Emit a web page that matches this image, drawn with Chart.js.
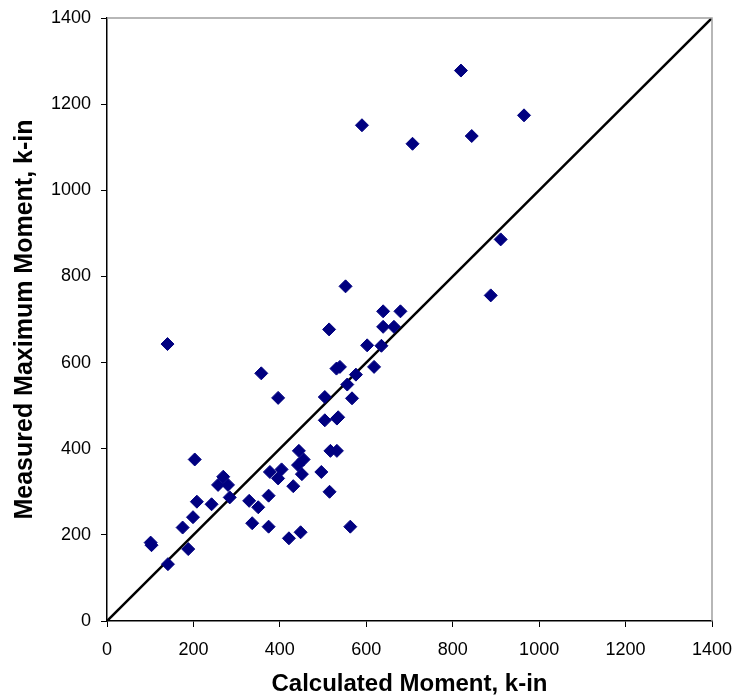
<!DOCTYPE html>
<html lang="en">
<head>
    <meta charset="UTF-8">
    <title>Measured vs Calculated Moment</title>
    <script src="https://cdn.jsdelivr.net/npm/chart.js"></script>
    <style>
        body { margin: 0; background: #fff; }
        #wrap { width: 737px; height: 700px; }
    </style>
</head>
<body>
    <div id="wrap"><canvas id="chartMoment" width="737" height="700"></canvas></div>

    <script>
        // calculated moment (k-in)
        const calcMoment = [101, 103, 140, 357, 396, 203, 208, 242, 199, 175, 188, 141,
            269, 257, 280, 284, 329, 350, 336, 374, 374, 377, 404, 396, 431, 421, 448,
            444, 455, 442, 451, 496, 515, 517, 532, 504, 532, 535, 504, 531, 539, 514,
            556, 567, 563, 576, 618, 602, 635, 639, 664, 639, 679, 552, 590, 707, 819,
            965, 844, 911, 888];
        // measured maximum moment (k-in)
        const measMoment = [182, 176, 643, 575, 518, 375, 277, 271, 241, 217, 167, 132,
            335, 316, 316, 287, 279, 264, 227, 219, 291, 346, 352, 331, 313, 192, 206,
            395, 375, 362, 341, 346, 300, 395, 395, 466, 470, 473, 520, 586, 590, 677,
            549, 517, 219, 572, 590, 640, 639, 683, 683, 719, 719, 777, 1151, 1108, 1278,
            1174, 1126, 886, 756];
        // 1:1 line
        const lineX = [0, 1400];
        const lineY = [0, 1400];
        const axisTicks = [0, 200, 400, 600, 800, 1000, 1200, 1400];

        const pts = calcMoment.map((x, i) => ({ x: x, y: measMoment[i] }));
        const diag = lineX.map((x, i) => ({ x: x, y: lineY[i] }));

        // gray frame on top and right like the original
        const frame = {
            id: 'frame',
            afterDraw(chart) {
                const a = chart.chartArea, c = chart.ctx;
                c.save();
                c.strokeStyle = '#a0a0a0';
                c.lineWidth = 1.5;
                c.beginPath();
                c.moveTo(a.left, a.top);
                c.lineTo(a.right, a.top);
                c.lineTo(a.right, a.bottom);
                c.stroke();
                c.restore();
            }
        };

        const font = { family: 'Liberation Sans, Arial, sans-serif', size: 18 };
        const xTitleFont = { family: 'Liberation Sans, Arial, sans-serif', size: 24, weight: 'bold' };
        const yTitleFont = { family: 'Liberation Sans, Arial, sans-serif', size: 25, weight: 'bold' };

        new Chart(document.getElementById('chartMoment'), {
            type: 'scatter',
            data: {
                datasets: [{
                    data: pts,
                    pointStyle: 'rectRot',
                    pointRadius: 6.5,
                    pointHoverRadius: 6.5,
                    backgroundColor: '#000080',
                    borderColor: '#000080',
                    borderWidth: 1,
                    order: 1
                }, {
                    type: 'line',
                    data: diag,
                    borderColor: '#000',
                    borderWidth: 2.5,
                    pointRadius: 0,
                    fill: false,
                    order: 2
                }]
            },
            options: {
                responsive: false,
                animation: false,
                layout: { padding: { top: 18, right: 25, left: 0, bottom: 0 } },
                plugins: { legend: { display: false }, tooltip: { enabled: false } },
                scales: {
                    x: {
                        type: 'linear', min: 0, max: 1400,
                        afterBuildTicks: s => { s.ticks = axisTicks.map(v => ({ value: v })); },
                        afterFit: s => { s.height = 79; s.paddingLeft = 0; s.paddingRight = 0; },
                        ticks: { color: '#000', font: font, padding: 12, maxRotation: 0,
                                 callback: v => String(v) },
                        grid: { drawOnChartArea: false, color: '#000', tickLength: 6 },
                        border: { color: '#000', width: 1.5 },
                        title: { display: true, text: 'Calculated Moment, k-in', color: '#000',
                                 font: xTitleFont, padding: { top: 0, bottom: 1 } }
                    },
                    y: {
                        type: 'linear', min: 0, max: 1400,
                        afterBuildTicks: s => { s.ticks = axisTicks.map(v => ({ value: v })); },
                        afterFit: s => { s.width = 107; s.paddingTop = 0; s.paddingBottom = 0; },
                        ticks: { color: '#000', font: font, padding: 10,
                                 callback: v => String(v) },
                        grid: { drawOnChartArea: false, color: '#000', tickLength: 6 },
                        border: { color: '#000', width: 1.5 },
                        title: { display: true, text: 'Measured Maximum Moment, k-in', color: '#000',
                                 font: yTitleFont, padding: { top: 10, bottom: 0 } }
                    }
                }
            },
            plugins: [frame]
        });
    </script>
</body>
</html>
